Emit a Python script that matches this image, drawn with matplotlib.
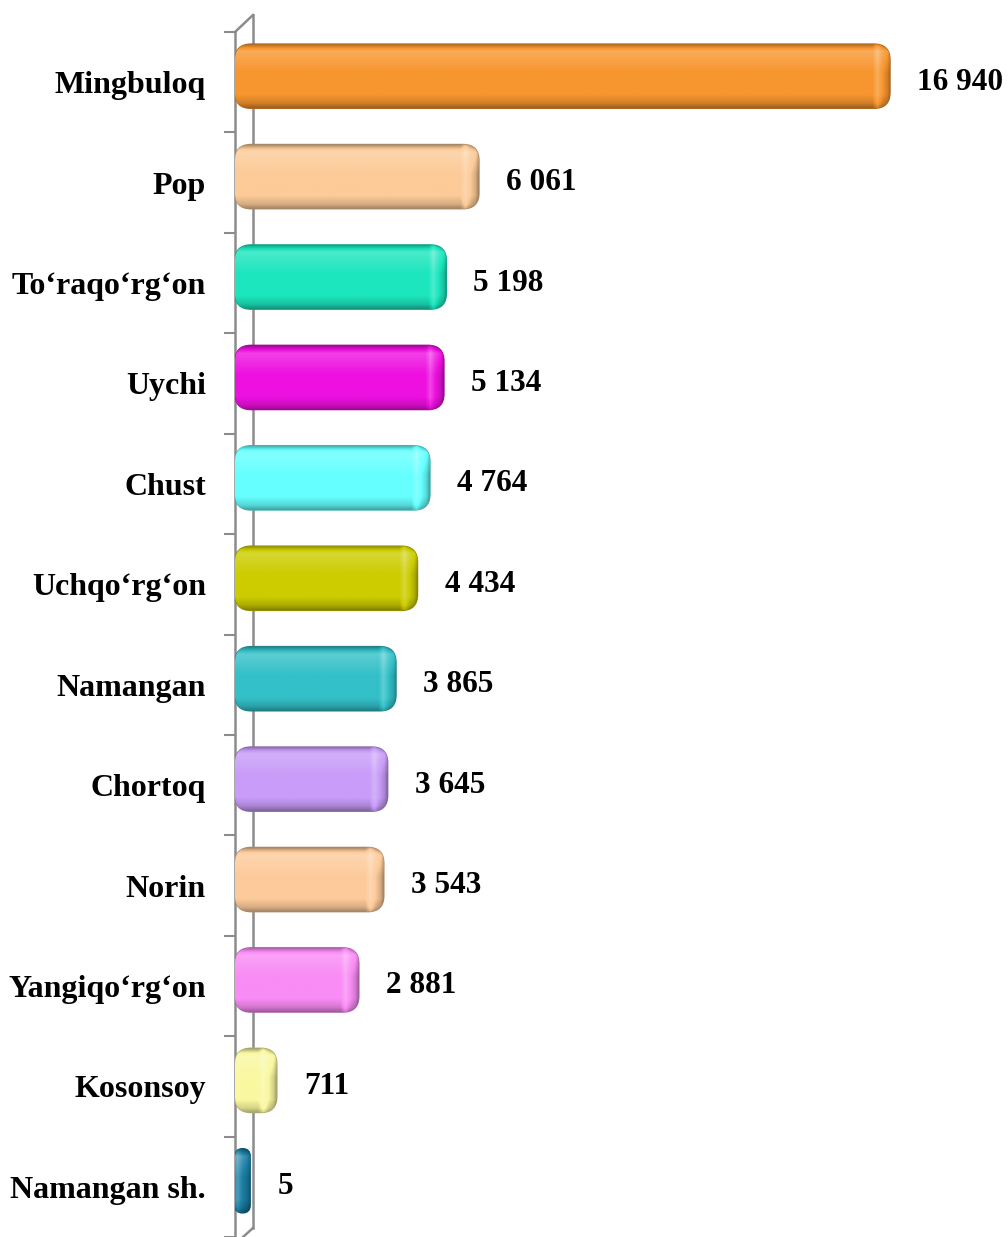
import numpy as np
import matplotlib
matplotlib.use("Agg")
import matplotlib.pyplot as plt
from matplotlib.patches import FancyBboxPatch
from matplotlib.colors import to_rgb
from matplotlib.lines import Line2D

categories = ["Mingbuloq", "Pop", "To‘raqo‘rg‘on", "Uychi", "Chust", "Uchqo‘rg‘on",
              "Namangan", "Chortoq", "Norin", "Yangiqo‘rg‘on", "Kosonsoy", "Namangan sh."]
values = [16940, 6061, 5198, 5134, 4764, 4434, 3865, 3645, 3543, 2881, 711, 5]
value_labels = ["16 940", "6 061", "5 198", "5 134", "4 764", "4 434", "3 865",
                "3 645", "3 543", "2 881", "711", "5"]
colors = ["#F7962F", "#FCCB98", "#1CE6BE", "#EE10E0", "#66FFFF", "#CCCC00",
          "#33C0C8", "#C89CF8", "#FDCB9B", "#F98CF5", "#FAF8A0", "#1A7FA5"]

FONT = ["Liberation Serif", "DejaVu Serif"]
W, H = 1008, 1237
fig = plt.figure(figsize=(W / 100, H / 100), dpi=100)
left_px, top_px = 235, 32
ax_w_px, ax_h_px = W - left_px, H - top_px
ax = fig.add_axes([left_px / W, 0, ax_w_px / W, ax_h_px / H])
ax.patch.set_alpha(0)

n = len(categories)
xmax = 20460
xupp = xmax / ax_w_px
yupp = n / ax_h_px
depth_px = 15
depth = depth_px * xupp
lift = 6 * yupp  # 3D perspective lift of the bar front
ypos = np.arange(n)

bars = ax.barh(ypos, values, height=0.64, color="none", edgecolor="none")


def shade(c, L):
    c = np.array(to_rgb(c))
    L = L[..., None]
    out = np.where(L >= 0, c + (1 - c) * L, c * (1 + L))
    return np.clip(out, 0, 1)


for bar, c in zip(bars, colors):
    x0, y0, w, h = bar.get_x(), bar.get_y() - lift, bar.get_width(), bar.get_height()
    total = w + depth
    r = min(16 * xupp, total / 2)
    patch = FancyBboxPatch((x0, y0), total, h,
                           boxstyle=f"round,pad=0,rounding_size={r}",
                           mutation_aspect=yupp / xupp,
                           facecolor=c, edgecolor=tuple(np.array(to_rgb(c)) * 0.7),
                           lw=1.0, zorder=3)
    ax.add_patch(patch)
    hp = max(int(h / yupp), 2)
    wp = max(int(total / xupp), 2)
    t = np.linspace(0, 1, hp)
    Lv = np.interp(t, [0, 0.05, 0.12, 0.25, 0.45, 0.8, 0.93, 1],
                   [-0.35, -0.1, 0.2, 0.12, 0.0, 0.0, -0.15, -0.35])
    d = np.linspace(wp, 0, wp)
    Lh = np.interp(d, [0, 3, 8, 13, 18, 40], [-0.35, -0.15, 0.0, 0.22, 0.0, 0.0])
    L = np.clip(Lv[:, None] + Lh[None, :], -0.6, 0.6)
    img = shade(c, L)
    im = ax.imshow(img, extent=(x0, x0 + total, y0 + h, y0), aspect="auto",
                   zorder=4, interpolation="bilinear")
    im.set_clip_path(patch)

for bar, lbl in zip(bars, value_labels):
    yc = bar.get_y() + bar.get_height() / 2
    ax.annotate(lbl, xy=(bar.get_width() + depth, yc), xytext=(27, 0),
                textcoords="offset pixels", va="center", ha="left",
                fontsize=22.5, fontweight="bold", family=FONT, color="black",
                annotation_clip=False)

ax.set_xlim(0, xmax)
ax.set_ylim(n - 0.5, -0.5)
ax.set_yticks(ypos)
ax.set_yticklabels(categories, fontsize=23, fontweight="bold", family=FONT)
ax.set_yticks(np.arange(-0.5, n, 1), minor=True)
ax.tick_params(axis="y", which="major", length=0, pad=21)
ax.tick_params(axis="y", which="minor", length=8, width=1.5, color="#8C8C8C")
ax.set_xticks([])
for s in ax.spines.values():
    s.set_visible(False)

gray = "#8C8C8C"
dx = 18 / ax_w_px
dy_top = 17 / ax_h_px
y_back_bot = 9 / ax_h_px
wall = [
    ([0, 0], [-0.01, 1]),
    ([0, dx], [1, 1 + dy_top]),
    ([dx, dx], [1 + dy_top, y_back_bot]),
    ([dx, 0], [y_back_bot, -0.006]),
]
for xs, ys in wall:
    ax.add_line(Line2D(xs, ys, transform=ax.transAxes, color=gray, lw=1.8,
                       clip_on=False, zorder=1))

fig.savefig("out.png", dpi=100)
